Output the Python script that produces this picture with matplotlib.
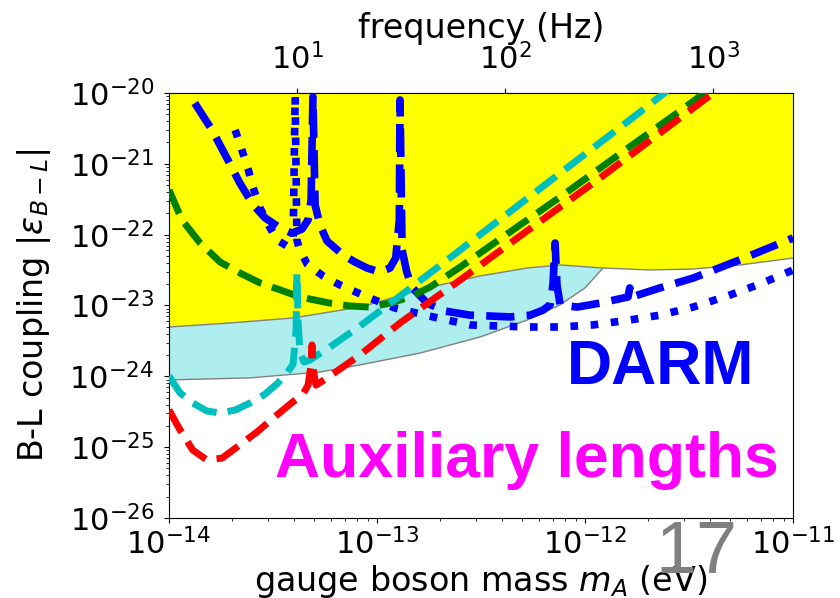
import numpy as np
import matplotlib
matplotlib.use("Agg")
import matplotlib.pyplot as plt
from matplotlib.ticker import NullLocator

plt.rcParams['font.family'] = ['DejaVu Sans']
plt.rcParams['font.size'] = 22

# h in eV s, converts mass (eV) to frequency (Hz)
h_ev = 4.1357e-15

# excluded region (yellow), lower edge
yellow_m = [1.0e-14, 1.96e-14, 3.95e-14, 8.28e-14, 1.74e-13, 3.13e-13, 5.27e-13,
            7.59e-13, 1.22e-12, 2.05e-12, 3.31e-12, 5.56e-12, 1.0e-11]
yellow_c = [4.97e-24, 5.66e-24, 6.66e-24, 9.5e-24, 1.77e-23, 2.61e-23, 3.38e-23,
            3.73e-23, 3.38e-23, 3.17e-23, 3.27e-23, 3.73e-23, 4.68e-23]

# second excluded region (cyan), lower edge
cyan_m = [1.0e-14, 2.45e-14, 5.32e-14, 8.28e-14, 1.61e-13, 3.13e-13, 5.27e-13,
          7.59e-13, 1.0e-12, 1.22e-12]
cyan_c = [8.9e-25, 9.5e-25, 1.15e-24, 1.45e-24, 2.13e-24, 3.59e-24, 6.24e-24,
          1.02e-23, 1.77e-23, 3.38e-23]

# auxiliary length sensitivities
red_m = [1.0e-14, 1.13e-14, 1.30e-14, 1.52e-14, 1.80e-14, 2.12e-14, 2.65e-14, 3.30e-14,
         4.04e-14, 4.41e-14, 4.66e-14, 4.82e-14, 4.87e-14, 4.92e-14, 5.09e-14, 5.94e-14,
         8.28e-14, 1.29e-13, 2.51e-13, 4.87e-13, 1.18e-12, 2.29e-12, 4.46e-12]
red_c = [3.35e-25, 1.75e-25, 9.1e-26, 6.6e-26, 7.0e-26, 1.0e-25, 1.64e-25, 2.84e-25,
         4.63e-25, 5.62e-25, 7.5e-25, 1.45e-24, 2.77e-24, 1.31e-24, 7.5e-25, 1.01e-24,
         2.0e-24, 5.66e-24, 2.29e-23, 9.57e-23, 6.3e-22, 2.72e-21, 1.18e-20]

green_m = [1.0e-14, 1.155e-14, 1.41e-14, 1.76e-14, 2.19e-14, 2.74e-14, 3.42e-14, 4.26e-14,
           5.94e-14, 7.41e-14, 9.25e-14, 1.155e-13, 1.44e-13, 1.80e-13, 2.51e-13, 3.90e-13,
           7.59e-13, 1.47e-12, 2.86e-12, 3.99e-12]
green_c = [4.27e-22, 1.61e-22, 7.62e-23, 4.11e-23, 2.88e-23, 2.08e-23, 1.66e-23, 1.32e-23,
           1.08e-23, 9.84e-24, 9.5e-24, 1.08e-23, 1.32e-23, 1.82e-23, 3.49e-23, 8.69e-23,
           3.40e-22, 1.38e-21, 5.57e-21, 1.14e-20]

cyanline_m = [1.0e-14, 1.13e-14, 1.30e-14, 1.52e-14, 1.76e-14, 2.08e-14, 2.45e-14, 2.90e-14,
              3.30e-14, 3.69e-14, 3.95e-14, 4.08e-14, 4.12e-14, 4.17e-14, 4.26e-14, 4.46e-14,
              4.76e-14, 5.94e-14, 8.28e-14, 1.29e-13, 2.51e-13, 4.87e-13, 9.46e-13, 1.84e-12,
              2.48e-12]
cyanline_c = [1.01e-24, 5.82e-25, 4.2e-25, 3.24e-25, 3.03e-25, 3.34e-25, 4.2e-25, 5.62e-25,
              7.8e-25, 1.11e-24, 1.49e-24, 4.51e-24, 2.88e-23, 6.24e-24, 2.20e-24, 1.59e-24,
              1.70e-24, 2.59e-24, 5.13e-24, 1.36e-23, 6.07e-23, 2.71e-22, 1.21e-21, 5.39e-21,
              1.07e-20]

# DARM sensitivities
darm1_m = [1.33e-14, 1.61e-14, 1.92e-14, 2.19e-14, 2.54e-14, 2.90e-14, 3.42e-14, 3.90e-14,
           4.36e-14, 4.66e-14, 4.82e-14, 4.92e-14, 5.04e-14, 5.32e-14, 5.75e-14, 6.87e-14,
           7.83e-14, 8.95e-14, 1.03e-13, 1.155e-13, 1.23e-13, 1.28e-13, 1.29e-13, 1.32e-13,
           1.39e-13, 1.47e-13, 1.74e-13, 2.12e-13, 2.80e-13, 4.36e-13, 5.45e-13, 6.28e-13,
           6.79e-13, 7.01e-13, 7.18e-13, 7.33e-13, 7.59e-13, 9.16e-13, 1.18e-12, 1.61e-12,
           1.64e-12, 1.68e-12, 2.29e-12, 3.31e-12, 5.38e-12, 1.0e-11]
darm1_c = [7.2e-21, 3.0e-21, 1.13e-21, 5.36e-22, 2.62e-22, 1.72e-22, 1.24e-22, 1.05e-22,
           1.20e-22, 1.61e-22, 3.08e-22, 8.8e-21, 2.62e-22, 1.37e-22, 8.13e-23, 5.16e-23,
           4.11e-23, 3.38e-23, 2.97e-23, 3.38e-23, 4.68e-23, 1.61e-22, 7.96e-21, 6.07e-23,
           2.97e-23, 1.82e-23, 1.08e-23, 8.36e-24, 7.3e-24, 6.9e-24, 7.3e-24, 8.6e-24,
           1.02e-23, 1.95e-23, 7.62e-23, 1.95e-23, 1.02e-23, 9.5e-24, 1.08e-23, 1.32e-23,
           1.77e-23, 1.32e-23, 1.77e-23, 2.44e-23, 4.25e-23, 8.97e-23]

darm2_m = [2.08e-14, 2.24e-14, 2.40e-14, 2.54e-14, 2.74e-14, 2.99e-14, 3.30e-14, 3.69e-14,
           3.95e-14, 4.04e-14, 4.12e-14, 4.22e-14, 4.61e-14, 5.50e-14, 6.63e-14, 8.11e-14,
           1.0e-13, 1.22e-13, 1.86e-13, 2.80e-13, 5.27e-13, 7.59e-13, 1.09e-12, 1.64e-12,
           2.29e-12, 3.31e-12, 4.82e-12, 6.94e-12, 1.0e-11]
darm2_c = [3.0e-21, 1.57e-21, 8.45e-22, 4.56e-22, 2.38e-22, 1.42e-22, 8.41e-23, 6.92e-23,
           8.41e-23, 9.07e-21, 8.41e-23, 6.49e-23, 3.85e-23, 2.61e-23, 1.95e-23, 1.50e-23,
           1.16e-23, 9.2e-24, 6.9e-24, 5.31e-24, 4.97e-24, 4.97e-24, 5.31e-24, 6.24e-24,
           7.3e-24, 9.5e-24, 1.36e-23, 2.01e-23, 3.17e-23]

fig = plt.figure(figsize=(8.4, 5.98), dpi=100)
ax = fig.add_axes([0.2012, 0.1338, 0.7429, 0.7107])

ax.fill_between(yellow_m, yellow_c, 1e-20, facecolor='yellow', edgecolor='none', zorder=1)
ax.plot(yellow_m, yellow_c, color='gray', lw=1, zorder=2)
n_top = yellow_m.index(1.22e-12) + 1
poly_m = cyan_m + yellow_m[:n_top][::-1]
poly_c = cyan_c + yellow_c[:n_top][::-1]
ax.fill(poly_m, poly_c, facecolor='paleturquoise', edgecolor='none', zorder=1)
ax.plot(cyan_m, cyan_c, color='gray', lw=1, zorder=2)

ax.plot(darm2_m, darm2_c, ':', color='b', lw=5.5, zorder=3)
ax.plot(darm1_m, darm1_c, '--', color='b', lw=5.5, zorder=3)
ax.plot(green_m, green_c, '--', color='g', lw=5, zorder=4)
ax.plot(cyanline_m, cyanline_c, '--', color='c', lw=5, zorder=4)
ax.plot(red_m, red_c, '--', color='r', lw=5, zorder=5)

ax.set_xscale('log')
ax.set_yscale('log')
ax.set_xlim(1e-14, 1e-11)
ax.set_ylim(1e-26, 1e-20)
ax.tick_params(axis='y', pad=7)
ax.set_xlabel(r'gauge boson mass $m_A$ (eV)', fontsize=24, labelpad=2)
ax.set_ylabel(r'B-L coupling $|\varepsilon_{B-L}|$', fontsize=24, labelpad=12)

secax = ax.secondary_xaxis('top', functions=(lambda m: m / h_ev, lambda f: f * h_ev))
secax.xaxis.set_minor_locator(NullLocator())
secax.tick_params(pad=9)
secax.set_xlabel('frequency (Hz)', fontsize=24, labelpad=4)

ax.text(0.787, 0.355, 'DARM', transform=ax.transAxes, ha='center', va='center',
        color='b', fontsize=45, fontweight='bold', family='Liberation Sans', zorder=6)
ax.text(0.574, 0.136, 'Auxiliary lengths', transform=ax.transAxes, ha='center', va='center',
        color='magenta', fontsize=45, fontweight='bold', family='Liberation Sans', zorder=6)
fig.text(0.829, 0.074, '17', ha='center', va='center', color='gray', fontsize=53,
         family='Liberation Sans', zorder=10)

plt.savefig('out.png', dpi=100)
